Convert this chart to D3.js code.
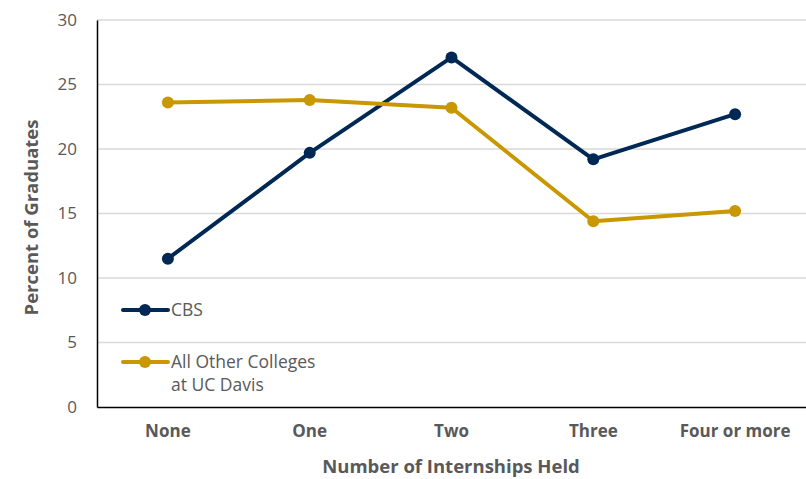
<!DOCTYPE html>
<html><head><meta charset="utf-8">
<script src="https://cdn.jsdelivr.net/npm/d3@7"></script>
<style>body{margin:0;background:#fff}svg{display:block;font-family:"Open Sans",sans-serif}</style>
</head><body>
<svg id="c" width="806" height="479"></svg>
<script>
const categories = ["None","One","Two","Three","Four or more"];
const cbs = [11.5, 19.7, 27.1, 19.2, 22.7];
const others = [23.6, 23.8, 23.2, 14.4, 15.2];
const yTicks = [0,5,10,15,20,25,30];
const seriesNames = ["CBS", ["All Other Colleges","at UC Davis"]];
const colors = ["#002855", "#C99700"];

const svg = d3.select("#c");
const m = {l:97, r:0, t:20, b:72};
const W = 806, H = 479;
const x = d3.scaleBand().domain(categories).range([m.l, W - m.r]);
const y = d3.scaleLinear().domain([0,30]).range([H - m.b, m.t]);

// gridlines
svg.append("g").selectAll("line").data(yTicks.filter(d=>d>0)).join("line")
  .attr("x1", m.l).attr("x2", W - m.r).attr("y1", d=>y(d)).attr("y2", d=>y(d))
  .attr("stroke", "#d9d9d9").attr("stroke-width", 1.5);

// y axis
const ya = svg.append("g").attr("transform", `translate(${m.l},0)`)
  .call(d3.axisLeft(y).tickValues(yTicks).tickSize(0).tickPadding(20));
ya.select(".domain").attr("stroke", "#000").attr("stroke-width", 1.5);
ya.selectAll("text").attr("font-size", 17).attr("fill", "#595959").attr("font-family","Open Sans");

// x axis
const xa = svg.append("g").attr("transform", `translate(0,${y(0)})`)
  .call(d3.axisBottom(x).tickSize(0).tickPadding(18));
xa.select(".domain").attr("stroke", "#000").attr("stroke-width", 1.5);
xa.selectAll("text").attr("font-size", 17).attr("font-weight", "bold").attr("fill", "#595959").attr("font-family","Open Sans");

// axis titles
svg.append("text").attr("x", 451).attr("y", 473).attr("text-anchor","middle")
  .attr("font-size", 18.5).attr("font-weight","bold").attr("fill","#595959").text("Number of Internships Held");
svg.append("text").attr("transform", `translate(38,${(m.t + y(0))/2 + 4}) rotate(-90)`).attr("text-anchor","middle")
  .attr("font-size", 18.5).attr("font-weight","bold").attr("fill","#595959").text("Percent of Graduates");

// lines
const line = d3.line().x((d,i)=>x(categories[i]) + x.bandwidth()/2).y(d=>y(d));
[cbs, others].forEach((s, k) => {
  svg.append("path").datum(s).attr("d", line).attr("fill","none")
    .attr("stroke", colors[k]).attr("stroke-width", 4).attr("stroke-linejoin","round");
  svg.append("g").selectAll("circle").data(s).join("circle")
    .attr("cx",(d,i)=>x(categories[i]) + x.bandwidth()/2).attr("cy", d=>y(d)).attr("r", 6)
    .attr("fill", colors[k]);
});

// legend
const leg = [{y:310}, {y:362}];
leg.forEach((l, k) => {
  svg.append("line").attr("x1",123).attr("x2",168).attr("y1",l.y).attr("y2",l.y)
    .attr("stroke", colors[k]).attr("stroke-width",4).attr("stroke-linecap","round");
  svg.append("circle").attr("cx",145).attr("cy",l.y).attr("r",6).attr("fill",colors[k]);
  const names = Array.isArray(seriesNames[k]) ? seriesNames[k] : [seriesNames[k]];
  const t = svg.append("text").attr("x",171).attr("y",l.y + 6).attr("font-size",17.5).attr("fill","#595959");
  names.forEach((n,i)=> t.append("tspan").attr("x",171).attr("dy", i===0?0:23).text(n));
});
</script>
</body></html>
